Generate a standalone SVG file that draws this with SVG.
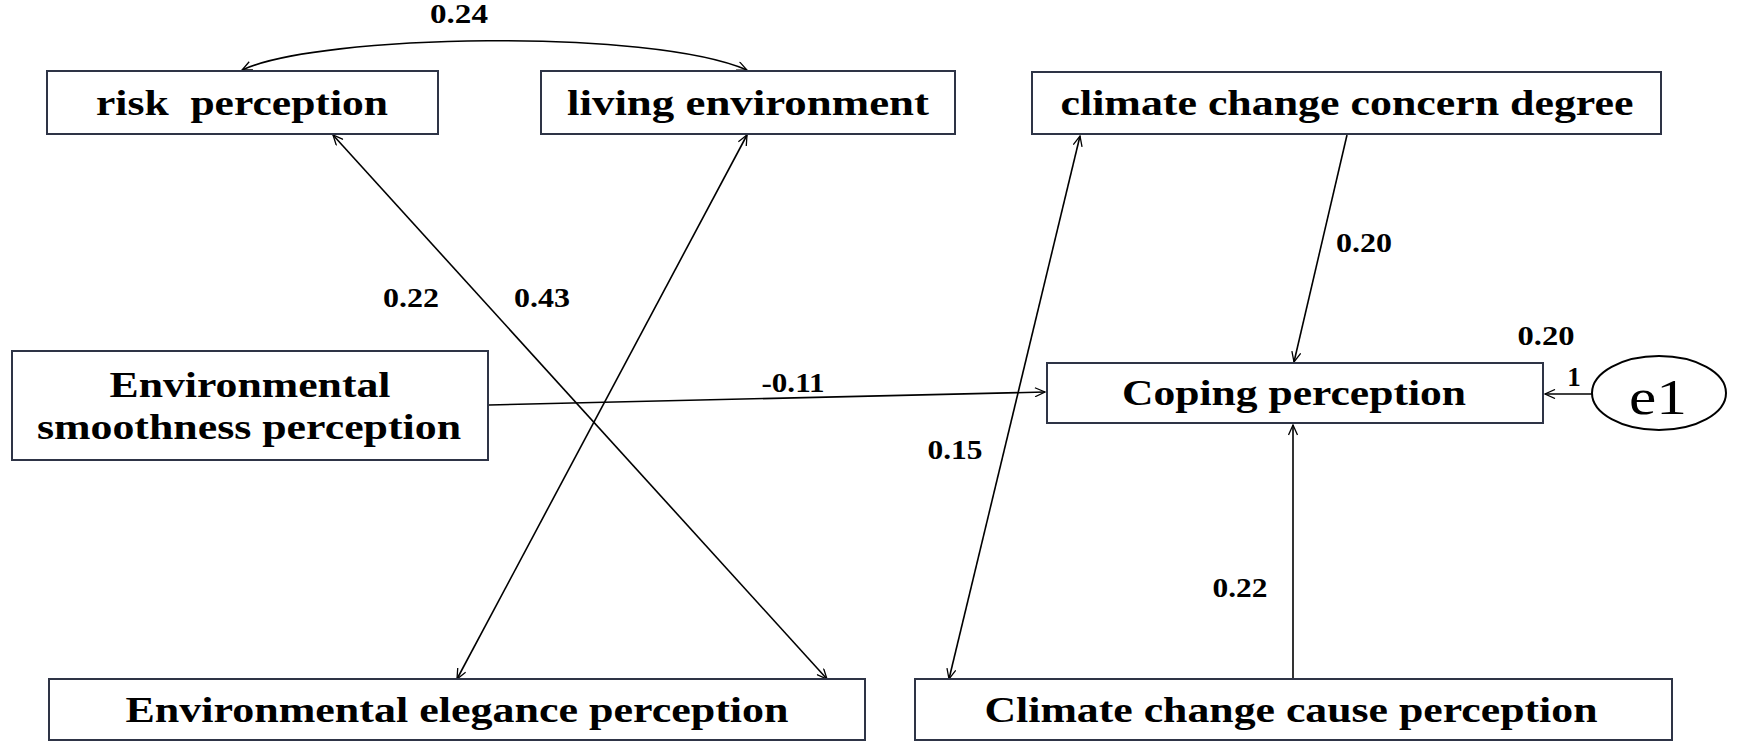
<svg xmlns="http://www.w3.org/2000/svg" width="1742" height="746" viewBox="0 0 1742 746">
<defs>
<marker id="ah" viewBox="0 0 10 10" refX="10" refY="5" markerWidth="12" markerHeight="10" markerUnits="userSpaceOnUse" orient="auto-start-reverse">
<path d="M0,0.5 L10,5 L0,9.5" fill="none" stroke="#000" stroke-width="1.3"/>
</marker>
</defs>
<style>
.box{fill:#fff;stroke:#2e3446;stroke-width:2}
.t{font-family:"Liberation Serif","Times New Roman",serif;font-weight:bold;font-size:35px;fill:#000}
.lb{font-family:"Liberation Serif","Times New Roman",serif;font-weight:bold;font-size:27px;fill:#000}
.c{fill:none;stroke:#000;stroke-width:1.6}
</style>
<rect width="1742" height="746" fill="#fff"/>
<g id="connectors">
<path class="c" d="M242,70 C320,34 650,28 747,70" marker-start="url(#ah)" marker-end="url(#ah)"/>
<line class="c" x1="333" y1="135" x2="827" y2="679" marker-start="url(#ah)" marker-end="url(#ah)"/>
<line class="c" x1="747" y1="135" x2="457" y2="679" marker-start="url(#ah)" marker-end="url(#ah)"/>
<line class="c" x1="1080" y1="136" x2="949" y2="679" marker-start="url(#ah)" marker-end="url(#ah)"/>
<line class="c" x1="1347" y1="135" x2="1294" y2="362" marker-end="url(#ah)"/>
<line class="c" x1="1293" y1="679" x2="1293" y2="425" marker-end="url(#ah)"/>
<line class="c" x1="489" y1="405" x2="1045" y2="392" marker-end="url(#ah)"/>
<line class="c" x1="1592" y1="394" x2="1545" y2="394" stroke-width="3" marker-end="url(#ah)"/>
<text class="lb" x="459" y="23" text-anchor="middle" textLength="58" lengthAdjust="spacingAndGlyphs">0.24</text>
<text class="lb" x="411" y="307" text-anchor="middle" textLength="56" lengthAdjust="spacingAndGlyphs">0.22</text>
<text class="lb" x="542" y="307" text-anchor="middle" textLength="56" lengthAdjust="spacingAndGlyphs">0.43</text>
<text class="lb" x="1364" y="252" text-anchor="middle" textLength="56" lengthAdjust="spacingAndGlyphs">0.20</text>
<text class="lb" x="1546" y="345" text-anchor="middle" textLength="57" lengthAdjust="spacingAndGlyphs">0.20</text>
<text class="lb" x="793" y="392" text-anchor="middle" textLength="63" lengthAdjust="spacingAndGlyphs">-0.11</text>
<text class="lb" x="955" y="459" text-anchor="middle" textLength="55" lengthAdjust="spacingAndGlyphs">0.15</text>
<text class="lb" x="1240" y="597" text-anchor="middle" textLength="55" lengthAdjust="spacingAndGlyphs">0.22</text>
<text class="lb" x="1574" y="386" text-anchor="middle" font-size="21">1</text>
</g>
<g id="risk">
<rect class="box" x="47" y="71" width="391" height="63"/>
<text class="t" x="242" y="115" text-anchor="middle" textLength="292" lengthAdjust="spacingAndGlyphs" xml:space="preserve">risk  perception</text>
</g>
<g id="living">
<rect class="box" x="541" y="71" width="414" height="63"/>
<text class="t" x="748" y="115" text-anchor="middle" textLength="362" lengthAdjust="spacingAndGlyphs">living environment</text>
</g>
<g id="concern">
<rect class="box" x="1032" y="72" width="629" height="62"/>
<text class="t" x="1347" y="115" text-anchor="middle" textLength="573" lengthAdjust="spacingAndGlyphs">climate change concern degree</text>
</g>
<g id="smoothness">
<rect class="box" x="12" y="351" width="476" height="109"/>
<text class="t" x="250" y="397" text-anchor="middle" textLength="281" lengthAdjust="spacingAndGlyphs">Environmental</text>
<text class="t" x="249" y="439" text-anchor="middle" textLength="424" lengthAdjust="spacingAndGlyphs">smoothness perception</text>
</g>
<g id="coping">
<rect class="box" x="1047" y="363" width="496" height="60"/>
<text class="t" x="1294" y="405" text-anchor="middle" textLength="344" lengthAdjust="spacingAndGlyphs">Coping perception</text>
</g>
<g id="e1">
<ellipse cx="1659" cy="393" rx="67" ry="37" fill="#fff" stroke="#000" stroke-width="2"/>
<text x="1658" y="414" text-anchor="middle" font-family="Liberation Serif, Times New Roman, serif" font-size="50" textLength="58" lengthAdjust="spacingAndGlyphs">e1</text>
</g>
<g id="elegance">
<rect class="box" x="49" y="679" width="816" height="61"/>
<text class="t" x="457" y="722" text-anchor="middle" textLength="663" lengthAdjust="spacingAndGlyphs">Environmental elegance perception</text>
</g>
<g id="cause">
<rect class="box" x="915" y="679" width="757" height="61"/>
<text class="t" x="1291" y="722" text-anchor="middle" textLength="613" lengthAdjust="spacingAndGlyphs">Climate change cause perception</text>
</g>
</svg>
